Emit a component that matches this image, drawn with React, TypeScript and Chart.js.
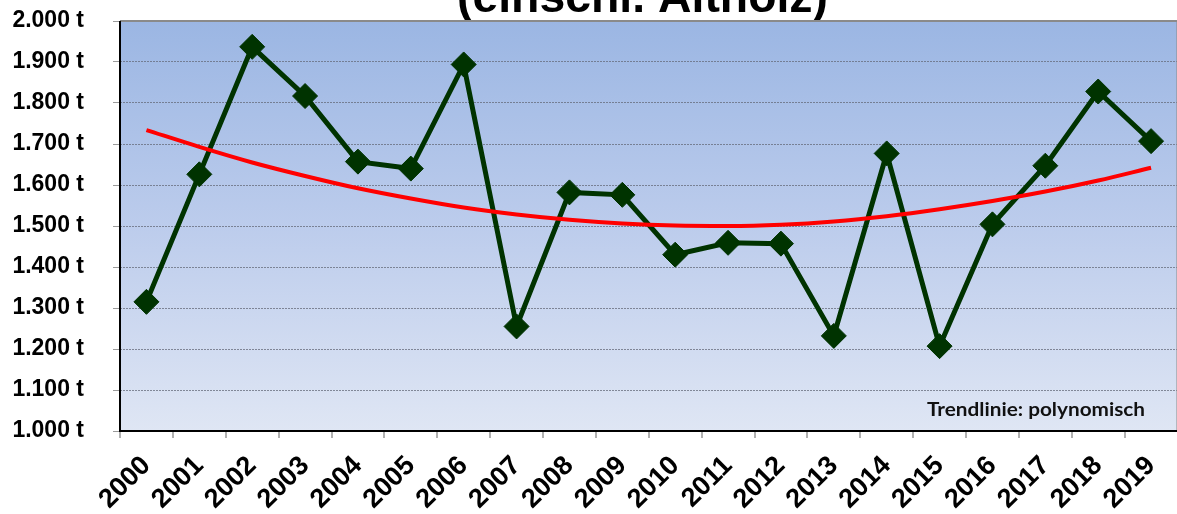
import React, { useEffect, useRef } from "react";
import { Chart, registerables } from "chart.js";

Chart.register(...registerables);

const years = [
  "2000", "2001", "2002", "2003", "2004", "2005", "2006", "2007", "2008", "2009",
  "2010", "2011", "2012", "2013", "2014", "2015", "2016", "2017", "2018", "2019",
];
const amounts = [
  1315, 1626, 1937, 1817, 1657, 1640, 1894, 1255, 1582, 1576,
  1430, 1459, 1457, 1232, 1677, 1207, 1504, 1647, 1828, 1707,
];
const trendValues = [
  1734, 1693, 1655, 1622, 1592, 1567, 1545, 1528, 1515, 1506,
  1501, 1500, 1503, 1511, 1524, 1541, 1561, 1584, 1611, 1642,
];
const yTickValues = [1000, 1100, 1200, 1300, 1400, 1500, 1600, 1700, 1800, 1900, 2000];
const yTickLabels = [
  "1.000 t", "1.100 t", "1.200 t", "1.300 t", "1.400 t", "1.500 t",
  "1.600 t", "1.700 t", "1.800 t", "1.900 t", "2.000 t",
];
const titleText = "(einschl. Altholz)";
const trendNote = "Trendlinie: polynomisch";

const W = 1177;
const H = 514;
const CW = 1191; // canvas is a little wider; the wrapper clips it to the page width
const AREA = { left: 120, top: 21, right: 1176, bottom: 431 };

const decorPlugin = {
  id: "decor",
  beforeDraw(chart: any) {
    const { ctx, chartArea } = chart;
    const { left, top, right, bottom } = chartArea;
    ctx.save();
    ctx.fillStyle = "#ffffff";
    ctx.fillRect(0, 0, CW, H);
    ctx.font = 'bold 46px "Liberation Sans", Arial, sans-serif';
    ctx.fillStyle = "#000000";
    ctx.textBaseline = "alphabetic";
    const tw = ctx.measureText(titleText).width;
    ctx.save();
    ctx.translate(457, 12);
    ctx.scale(371 / tw, 1);
    ctx.fillText(titleText, 0, 0);
    ctx.restore();
    const g = ctx.createLinearGradient(0, top, 0, bottom);
    g.addColorStop(0, "rgb(155,182,227)");
    g.addColorStop(0.5, "rgb(188,204,236)");
    g.addColorStop(1, "rgb(223,230,244)");
    ctx.fillStyle = g;
    ctx.fillRect(left, top, right - left, bottom - top);
    ctx.restore();
  },
  beforeDatasetsDraw(chart: any) {
    const { ctx, chartArea } = chart;
    const { left, top, right, bottom } = chartArea;
    ctx.save();
    ctx.strokeStyle = "#8a8a8a";
    ctx.lineWidth = 2;
    ctx.beginPath();
    ctx.moveTo(left, top);
    ctx.lineTo(right, top);
    ctx.lineTo(right, bottom);
    ctx.stroke();
    ctx.strokeStyle = "#000000";
    ctx.lineWidth = 2;
    ctx.beginPath();
    ctx.moveTo(left, top);
    ctx.lineTo(left, bottom);
    ctx.lineTo(right, bottom);
    ctx.stroke();
    ctx.font = 'bold 19px Lato, "Open Sans", sans-serif';
    ctx.fillStyle = "#111111";
    ctx.textBaseline = "alphabetic";
    const nw = ctx.measureText(trendNote).width;
    ctx.translate(927, 416);
    ctx.scale(218 / nw, 1);
    ctx.fillText(trendNote, 0, 0);
    ctx.restore();
  },
};

export default function App() {
  const ref = useRef<HTMLCanvasElement | null>(null);

  useEffect(() => {
    if (!ref.current) return;
    const chart: any = new Chart(ref.current, {
      type: "line",
      data: {
        labels: years,
        datasets: [
          {
            label: "Trend",
            data: trendValues,
            borderColor: "#ff0000",
            borderWidth: 4,
            pointRadius: 0,
            tension: 0.4,
            cubicInterpolationMode: "monotone",
            fill: false,
            order: 0,
          },
          {
            label: "Menge",
            data: amounts,
            borderColor: "#003300",
            backgroundColor: "#003300",
            borderWidth: 5,
            pointStyle: "rectRot",
            pointRadius: 12.5,
            pointBorderWidth: 1,
            pointBackgroundColor: "#003300",
            pointBorderColor: "#003300",
            tension: 0,
            fill: false,
            order: 1,
          },
        ],
      },
      options: {
        responsive: false,
        animation: false,
        layout: { padding: { top: AREA.top, right: 1, left: 0, bottom: 0 } },
        plugins: {
          legend: { display: false },
          title: { display: false },
          tooltip: { enabled: false },
        },
        scales: {
          x: {
            type: "category",
            offset: true,
            afterFit(scale: any) {
              scale.height = H - AREA.bottom;
              scale.paddingLeft = 0;
              scale.paddingRight = 0;
            },
            grid: {
              offset: true,
              drawOnChartArea: false,
              drawTicks: true,
              tickLength: 7,
              color: "#b0b0b0",
              tickColor: "#b0b0b0",
              lineWidth: 2,
            },
            border: { display: false },
            ticks: {
              autoSkip: false,
              maxRotation: 45,
              minRotation: 45,
              padding: 12,
              color: "#000000",
              font: { family: '"Liberation Sans", Arial, sans-serif', size: 27, weight: "bold" },
            },
          },
          y: {
            min: 1000,
            max: 2000,
            afterFit(scale: any) {
              scale.width = AREA.left;
              scale.paddingTop = 0;
              scale.paddingBottom = 0;
            },
            afterBuildTicks(scale: any) {
              scale.ticks = yTickValues.map((v) => ({ value: v }));
            },
            grid: {
              color: "rgba(100,105,120,0.75)",
              lineWidth: 1,
              drawTicks: true,
              tickLength: 7,
              tickColor: "#9a9a9a",
            },
            border: { display: false, dash: [2, 1] },
            ticks: {
              padding: 29,
              color: "#000000",
              font: { family: '"Liberation Sans", Arial, sans-serif', size: 23, weight: "bold" },
              callback: (v: any) => {
                const i = yTickValues.indexOf(Number(v));
                return i >= 0 ? yTickLabels[i] : "";
              },
            },
          },
        },
      },
      plugins: [decorPlugin],
    } as any);

    // nudge the layout padding until the plot area sits where the reference has it
    for (let k = 0; k < 5; k++) {
      const ca = chart.chartArea;
      const dTop = AREA.top - ca.top;
      const dRight = ca.right - AREA.right;
      const dBottom = ca.bottom - AREA.bottom;
      const dLeft = AREA.left - ca.left;
      if (Math.abs(dTop) < 0.5 && Math.abs(dRight) < 0.5 && Math.abs(dBottom) < 0.5 && Math.abs(dLeft) < 0.5) break;
      const p = chart.options.layout.padding;
      chart.options.layout.padding = {
        top: p.top + dTop,
        right: Math.max(0, p.right + dRight),
        bottom: p.bottom + dBottom,
        left: p.left + dLeft,
      };
      chart.update();
    }
    return () => chart.destroy();
  }, []);

  return (
    <div style={{ position: "absolute", left: 0, top: 0, width: W, height: H, overflow: "hidden", background: "#fff" }}>
      <canvas ref={ref} width={CW} height={H} style={{ display: "block" }} />
    </div>
  );
}
